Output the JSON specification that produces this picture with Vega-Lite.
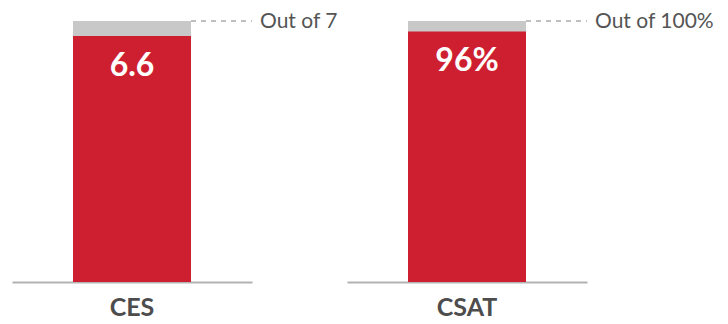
{
  "$schema": "https://vega.github.io/schema/vega-lite/v6.json",
  "autosize": {"type": "pad"},
  "padding": {"left": 12, "top": 11, "right": 0, "bottom": 0},
  "background": "white",
  "bounds": "flush",
  "spacing": 95,
  "config": {
    "view": {"stroke": null},
    "font": "Lato"
  },
  "data": {
    "values": [
      {"metric": "CES", "value": 6.6, "max": 7, "label": "6.6", "outOf": "Out of 7"},
      {"metric": "CSAT", "value": 96, "max": 100, "label": "96%", "outOf": "Out of 100%"}
    ]
  },
  "facet": {
    "column": {"field": "metric", "type": "nominal", "title": null, "header": {"labels": false, "title": null}}
  },
  "spec": {
    "width": 240,
    "height": 261,
    "encoding": {
      "x": {
        "field": "metric",
        "type": "nominal",
        "title": null,
        "scale": {"paddingInner": 0, "paddingOuter": 0.517},
        "axis": {
          "domainColor": "#b3b3b3",
          "domainWidth": 2,
          "ticks": false,
          "labelAngle": 0,
          "labelFont": "Lato",
          "labelFontWeight": "bold",
          "labelFontSize": 25,
          "labelColor": "#4d4d4d",
          "labelPadding": 13
        }
      }
    },
    "layer": [
      {
        "mark": {"type": "bar", "color": "#c8c8c8"},
        "encoding": {
          "y": {"field": "max", "type": "quantitative", "stack": null, "axis": null, "scale": {"nice": false, "zero": true}}
        }
      },
      {
        "mark": {"type": "bar", "color": "#ce1f31"},
        "encoding": {
          "y": {"field": "value", "type": "quantitative", "stack": null}
        }
      },
      {
        "mark": {"type": "text", "color": "white", "font": "Lato", "fontWeight": "bold", "fontSize": 32, "baseline": "middle", "dy": 30},
        "encoding": {
          "y": {"field": "value", "type": "quantitative"},
          "text": {"field": "label"}
        }
      },
      {
        "mark": {"type": "rule", "color": "#aaaaaa", "strokeWidth": 1.5, "strokeDash": [5, 5]},
        "encoding": {
          "x": {"field": "metric", "type": "nominal", "bandPosition": 1},
          "x2": {"value": "width"},
          "y": {"field": "max", "type": "quantitative"}
        }
      },
      {
        "mark": {"type": "text", "color": "#555555", "font": "Lato", "fontSize": 21, "align": "left", "baseline": "middle", "dx": 8, "dy": 1},
        "encoding": {
          "x": {"value": "width"},
          "y": {"field": "max", "type": "quantitative"},
          "text": {"field": "outOf"}
        }
      }
    ]
  },
  "resolve": {"scale": {"x": "independent", "y": "independent"}}
}
